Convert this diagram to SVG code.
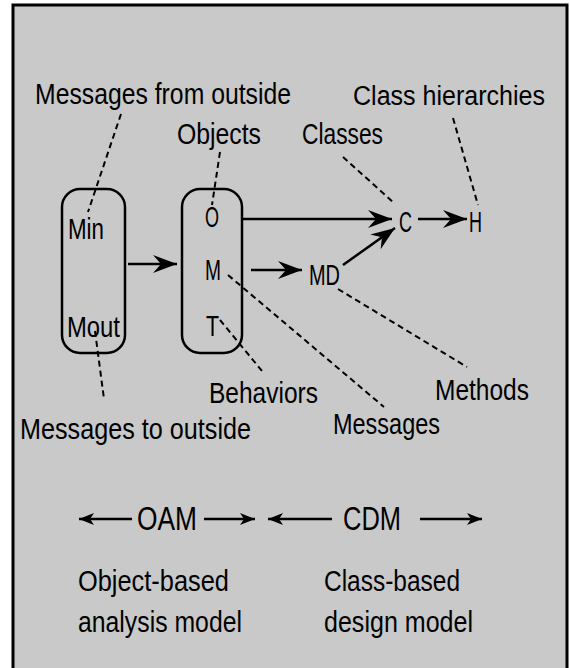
<svg xmlns="http://www.w3.org/2000/svg" width="570" height="668" viewBox="0 0 570 668">
<style>
text{font-family:"Liberation Sans Narrow","Liberation Sans",Arial,sans-serif;font-size:29px;fill:#000;}
.big{font-size:34px;}
.sm{font-size:27px;}
.box{fill:none;stroke:#000;stroke-width:2.5;}
.arr{stroke:#000;stroke-width:2.5;fill:none;}
.dash{stroke:#000;stroke-width:2;stroke-dasharray:6,4;fill:none;}
</style>
<defs>
<marker id="ah" viewBox="-25 -10 26 20" refX="0" refY="0" markerWidth="26" markerHeight="20" markerUnits="userSpaceOnUse" orient="auto">
<path d="M0,0 L-24,-9 L-16,0 L-24,9 Z" fill="#000"/>
</marker>
<marker id="as" viewBox="-16 -7 17 14" refX="0" refY="0" markerWidth="17" markerHeight="14" markerUnits="userSpaceOnUse" orient="auto-start-reverse">
<path d="M0,0 L-15,-6 L-11,0 L-15,6 Z" fill="#000"/>
</marker>
</defs>
<rect x="0" y="0" width="570" height="668" fill="#fff"/>
<rect x="13" y="5" width="554" height="670" fill="#c9c9c9" stroke="#000" stroke-width="3"/>

<g id="connectors">
<line class="arr" x1="128" y1="264" x2="177" y2="264" marker-end="url(#ah)"/>
<line class="arr" x1="251" y1="270" x2="302" y2="270" marker-end="url(#ah)"/>
<line class="arr" x1="242" y1="219" x2="392" y2="219" marker-end="url(#ah)"/>
<line class="arr" x1="418" y1="219" x2="467" y2="219" marker-end="url(#ah)"/>
<line class="arr" x1="343" y1="265" x2="395" y2="228" marker-end="url(#ah)"/>
<line class="dash" x1="121" y1="114" x2="88" y2="212"/>
<line class="dash" x1="220" y1="152" x2="212" y2="205"/>
<line class="dash" x1="343" y1="157" x2="393" y2="202"/>
<line class="dash" x1="453" y1="118" x2="478" y2="205"/>
<line class="dash" x1="95" y1="331" x2="104" y2="399"/>
<line class="dash" x1="220" y1="320" x2="262" y2="371"/>
<line class="dash" x1="228" y1="275" x2="384" y2="407"/>
<line class="dash" x1="338" y1="289" x2="467" y2="367"/>
<line class="arr" x1="79" y1="519" x2="132" y2="519" marker-start="url(#as)"/>
<line class="arr" x1="204" y1="519" x2="255" y2="519" marker-end="url(#as)"/>
<line class="arr" x1="268" y1="519" x2="332" y2="519" marker-start="url(#as)"/>
<line class="arr" x1="420" y1="519" x2="482" y2="519" marker-end="url(#as)"/>
</g>

<g id="node-min-mout">
<rect class="box" x="62" y="189" width="63" height="164" rx="18" ry="18"/>
<text x="68" y="239" textLength="36" lengthAdjust="spacingAndGlyphs">Min</text>
<text x="67" y="337" textLength="53" lengthAdjust="spacingAndGlyphs">Mout</text>
</g>
<g id="node-omt">
<rect class="box" x="182" y="189" width="60" height="164" rx="18" ry="18"/>
<text x="205" y="227" textLength="14" lengthAdjust="spacingAndGlyphs">O</text>
<text x="205" y="280" textLength="16" lengthAdjust="spacingAndGlyphs">M</text>
<text x="206" y="336" textLength="13" lengthAdjust="spacingAndGlyphs">T</text>
</g>
<g id="node-md"><text x="309" y="285" textLength="31" lengthAdjust="spacingAndGlyphs">MD</text></g>
<g id="node-c"><text x="399" y="232" textLength="13" lengthAdjust="spacingAndGlyphs">C</text></g>
<g id="node-h"><text x="469" y="232" textLength="13" lengthAdjust="spacingAndGlyphs">H</text></g>

<g id="labels">
<text x="35" y="104" textLength="256" lengthAdjust="spacingAndGlyphs">Messages from outside</text>
<text class="sm" x="353" y="105" textLength="192" lengthAdjust="spacingAndGlyphs">Class hierarchies</text>
<text x="177" y="144" textLength="84" lengthAdjust="spacingAndGlyphs">Objects</text>
<text x="302" y="144" textLength="81" lengthAdjust="spacingAndGlyphs">Classes</text>
<text x="209" y="403" textLength="109" lengthAdjust="spacingAndGlyphs">Behaviors</text>
<text x="435" y="400" textLength="94" lengthAdjust="spacingAndGlyphs">Methods</text>
<text x="20" y="439" textLength="231" lengthAdjust="spacingAndGlyphs">Messages to outside</text>
<text x="333" y="434" textLength="107" lengthAdjust="spacingAndGlyphs">Messages</text>
</g>
<g id="node-oam">
<text class="big" x="137" y="530" textLength="60" lengthAdjust="spacingAndGlyphs">OAM</text>
<text x="78" y="591" textLength="151" lengthAdjust="spacingAndGlyphs">Object-based</text>
<text x="78" y="632" textLength="164" lengthAdjust="spacingAndGlyphs">analysis model</text>
</g>
<g id="node-cdm">
<text class="big" x="343" y="530" textLength="58" lengthAdjust="spacingAndGlyphs">CDM</text>
<text x="324" y="591" textLength="136" lengthAdjust="spacingAndGlyphs">Class-based</text>
<text x="324" y="632" textLength="149" lengthAdjust="spacingAndGlyphs">design model</text>
</g>
</svg>
